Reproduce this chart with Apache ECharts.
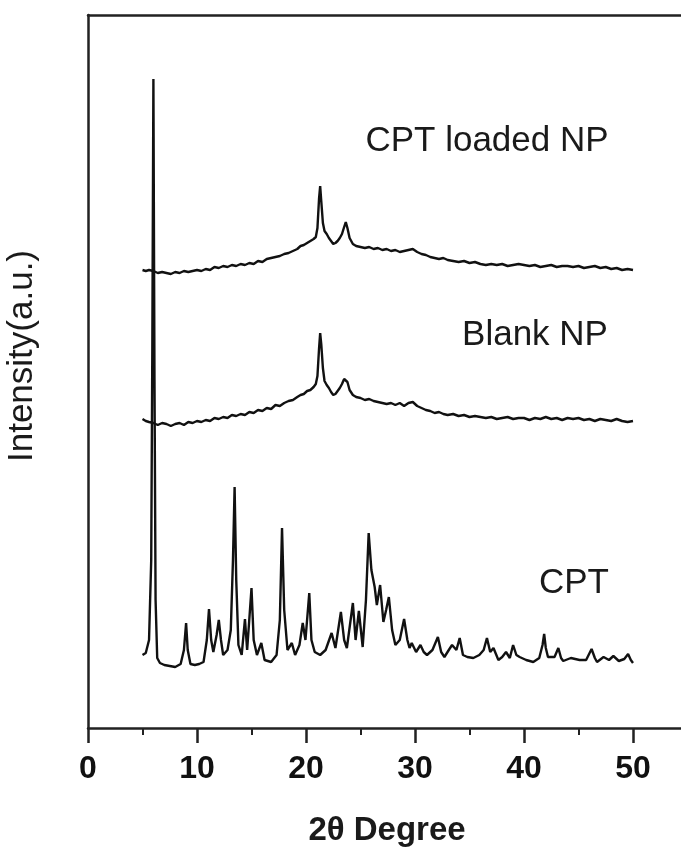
<!DOCTYPE html>
<html><head><meta charset="utf-8">
<script src="https://cdn.jsdelivr.net/npm/echarts@6/dist/echarts.min.js"></script>
<style>html,body{margin:0;padding:0;background:#fff;overflow:hidden;width:681px;height:848px}#c{width:700px;height:848px}</style>
</head><body><div id="c"></div>
<script>
// 2θ (degree) and intensity (a.u.) pairs
const cptTheta = [5.0,5.3,5.6,5.8,5.9,6.0,6.1,6.2,6.35,6.6,7.0,7.5,8.0,8.5,8.8,9.0,9.15,9.4,9.8,10.2,10.6,10.9,11.1,11.3,11.5,11.8,12.0,12.2,12.4,12.8,13.1,13.3,13.45,13.6,13.8,14.1,14.4,14.6,15.0,15.2,15.5,15.9,16.2,16.8,17.3,17.6,17.8,18.0,18.3,18.7,19.0,19.4,19.7,19.95,20.3,20.5,20.8,21.3,21.8,22.35,22.7,23.2,23.5,23.75,24.3,24.55,24.85,25.2,25.5,25.75,26.0,26.3,26.5,26.8,27.1,27.35,27.6,27.9,28.2,28.6,29.0,29.3,29.5,29.7,30.1,30.5,30.8,31.1,31.6,32.1,32.4,32.7,33.1,33.4,33.8,34.1,34.4,34.8,35.35,35.9,36.3,36.6,36.9,37.2,37.65,38.0,38.35,38.7,39.0,39.3,39.6,40.2,40.85,41.4,41.7,41.85,42.0,42.2,42.8,43.15,43.4,43.6,44.3,45.1,45.7,46.2,46.5,46.7,47.3,47.8,48.2,48.7,49.2,49.55,49.8,50.0];
const cptIntensity = [73,75,88,168,378,649,348,128,70,65,63,62,61,64,78,105,78,64,63,64,66,88,119,88,76,93,108,88,73,78,98,168,241,148,83,73,109,78,140,88,73,85,68,66,73,108,200,118,78,85,73,83,105,88,135,88,76,73,78,95,80,116,88,80,125,88,117,81,128,195,158,141,123,143,106,118,131,98,83,88,109,88,80,85,76,83,76,73,78,91,76,71,78,83,78,90,73,71,70,73,78,90,76,80,68,71,76,70,83,73,71,68,66,70,83,94,80,71,71,80,70,67,70,68,68,79,70,66,71,68,72,67,69,74,68,65];

const blankTheta = [5.0,5.3,5.6,6.0,6.4,6.8,7.2,7.6,8.0,8.4,8.8,9.2,9.6,10.0,10.4,10.8,11.2,11.6,12.0,12.4,12.8,13.2,13.6,14.0,14.4,14.8,15.2,15.6,16.0,16.4,16.8,17.2,17.6,18.0,18.4,18.8,19.2,19.5,19.8,20.1,20.4,20.7,20.9,21.05,21.2,21.3,21.4,21.55,21.7,21.9,22.1,22.3,22.5,22.7,22.9,23.1,23.3,23.5,23.65,23.8,24.0,24.3,24.6,25.0,25.4,25.8,26.2,26.6,27.0,27.4,27.8,28.2,28.6,29.0,29.4,29.8,30.2,30.6,31.0,31.4,31.8,32.2,32.6,33.0,33.5,34.0,34.5,35.0,35.5,36.0,36.5,37.0,37.5,38.0,38.5,39.0,39.5,40.0,40.5,41.0,41.5,42.0,42.5,43.0,43.5,44.0,44.5,45.0,45.5,46.0,46.5,47.0,47.5,48.0,48.5,49.0,49.5,50.0];
const blankIntensity = [309,307,306,305,303,305,304,302,304,305,303,306,305,307,306,308,307,310,309,311,310,313,312,314,313,316,315,318,317,320,319,323,322,325,327,328,331,333,334,337,338,341,344,352,380,395,384,360,347,343,340,336,333,334,337,340,344,349,350,346,338,333,331,330,328,329,327,326,325,324,325,323,325,322,325,326,322,320,318,317,315,316,314,313,314,312,313,311,312,311,310,311,309,310,311,309,310,310,308,310,309,311,309,310,308,310,309,310,308,309,307,309,308,307,309,307,306,307,305,306];

const loadedTheta = [5.0,5.3,5.6,6.0,6.4,6.8,7.2,7.6,8.0,8.4,8.8,9.2,9.6,10.0,10.4,10.8,11.2,11.6,12.0,12.4,12.8,13.2,13.6,14.0,14.4,14.8,15.2,15.6,16.0,16.4,16.8,17.2,17.6,18.0,18.4,18.8,19.2,19.5,19.8,20.1,20.4,20.7,20.9,21.05,21.2,21.3,21.4,21.55,21.7,21.9,22.1,22.3,22.5,22.7,22.9,23.1,23.3,23.5,23.65,23.8,24.0,24.3,24.6,25.0,25.4,25.8,26.2,26.6,27.0,27.4,27.8,28.2,28.6,29.0,29.4,29.8,30.2,30.6,31.0,31.4,31.8,32.2,32.6,33.0,33.5,34.0,34.5,35.0,35.5,36.0,36.5,37.0,37.5,38.0,38.5,39.0,39.5,40.0,40.5,41.0,41.5,42.0,42.5,43.0,43.5,44.0,44.5,45.0,45.5,46.0,46.5,47.0,47.5,48.0,48.5,49.0,49.5,50.0];
const loadedIntensity = [458,457,458,457,455,456,455,454,456,455,457,456,457,458,457,459,458,461,460,462,461,463,462,464,463,465,464,467,466,469,470,471,472,474,475,477,479,482,483,485,487,489,491,500,530,542,527,505,497,494,490,487,484,485,487,490,494,501,506,500,490,484,482,481,480,481,479,480,478,479,477,478,476,477,478,479,476,474,473,471,470,469,470,468,467,466,467,465,466,464,463,464,463,464,462,463,464,463,462,463,461,462,463,461,462,462,461,462,460,461,462,460,461,459,460,458,459,458,457,457];

const xTicks = [0,10,20,30,40,50];
const labels = {loaded:"CPT loaded NP", blank:"Blank NP", cpt:"CPT"};

function pairs(xs, ys){ return xs.map((x,i)=>[x, ys[i]]); }

const chart = echarts.init(document.getElementById('c'), null, {renderer:'canvas'});
const lineStyle = {color:'#111', width:2.4};
const txt = {fontFamily:'"Liberation Sans", Arial, sans-serif', fontSize:35, fill:'#1a1a1a'};
chart.setOption({
  backgroundColor:'#fff',
  animation:false,
  grid:{left:88, right:12.5, top:15, bottom:120, show:false},
  xAxis:[{type:'value', min:0, max:55, interval:10,
    axisLine:{show:true, onZero:false, lineStyle:{color:'#222', width:2.5}},
    axisTick:{show:true, length:15, lineStyle:{color:'#222', width:2.5}},
    minorTick:{show:true, splitNumber:2, length:7, lineStyle:{color:'#222', width:2}},
    splitLine:{show:false},
    axisLabel:{margin:25, showMaxLabel:false, fontSize:32, fontWeight:'bold', color:'#111', fontFamily:'"Liberation Sans", Arial, sans-serif',
      formatter: v => xTicks.indexOf(v) >= 0 ? String(v) : ''}
  },{type:'value', position:'top', min:0, max:55,
    axisLine:{show:true, onZero:false, lineStyle:{color:'#222', width:2.5}},
    axisTick:{show:false}, axisLabel:{show:false}, splitLine:{show:false}
  }],
  yAxis:{type:'value', min:0, max:713,
    axisLine:{show:true, lineStyle:{color:'#222', width:2.5}},
    axisTick:{show:false}, axisLabel:{show:false}, splitLine:{show:false}
  },
  graphic:[
    {type:'text', style:Object.assign({}, txt, {text:'2θ Degree', fontWeight:'bold', fontSize:33, x:387, y:831, textAlign:'center', textVerticalAlign:'middle'})},
    {type:'text', x:22, y:356, rotation:Math.PI/2, style:Object.assign({}, txt, {text:'Intensity(a.u.)', textAlign:'center', textVerticalAlign:'middle'})},
    {type:'text', style:Object.assign({}, txt, {text:labels.loaded, x:487, y:141, textAlign:'center', textVerticalAlign:'middle'})},
    {type:'text', style:Object.assign({}, txt, {text:labels.blank, x:535, y:335, textAlign:'center', textVerticalAlign:'middle'})},
    {type:'text', style:Object.assign({}, txt, {text:labels.cpt, x:574, y:583, textAlign:'center', textVerticalAlign:'middle'})}
  ],
  series:[
    {name:labels.cpt, type:'line', data:pairs(cptTheta,cptIntensity), showSymbol:false, lineStyle:lineStyle, z:3},
    {name:labels.blank, type:'line', data:pairs(blankTheta,blankIntensity), showSymbol:false, lineStyle:lineStyle},
    {name:labels.loaded, type:'line', data:pairs(loadedTheta,loadedIntensity), showSymbol:false, lineStyle:lineStyle}
  ]
});
</script></body></html>
